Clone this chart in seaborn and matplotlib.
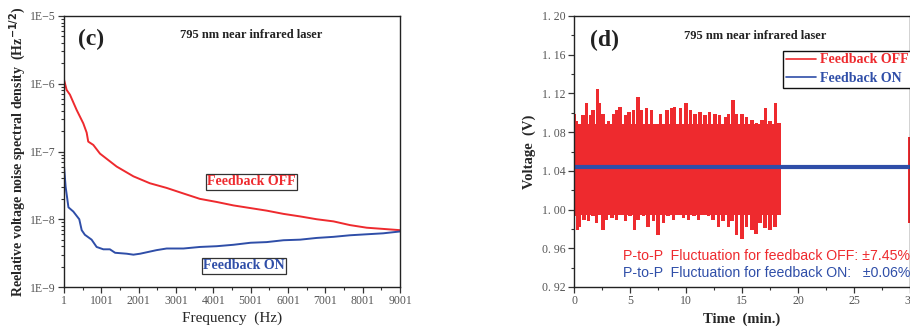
import numpy as np
import pandas as pd
import seaborn as sns
import matplotlib.pyplot as plt
from matplotlib.ticker import FixedLocator, MultipleLocator, LogLocator, NullFormatter

# --- panel (c): noise spectral density ---
freq_off = [1, 72, 160, 340, 518, 608, 650, 786, 965, 1410, 1860, 2300, 2750, 3200, 3640,
            4090, 4540, 5000, 5430, 5880, 6330, 6770, 7220, 7660, 8110, 8550, 9001]
nsd_off = [1.15e-6, 8.1e-7, 6.9e-7, 4.1e-7, 2.6e-7, 1.9e-7, 1.4e-7, 1.25e-7, 9.3e-8, 6.0e-8,
           4.3e-8, 3.4e-8, 2.9e-8, 2.4e-8, 2.0e-8, 1.8e-8, 1.6e-8, 1.46e-8, 1.34e-8, 1.2e-8,
           1.1e-8, 1.0e-8, 9.3e-9, 8.2e-9, 7.5e-9, 7.2e-9, 6.9e-9]

freq_on = [1, 45, 120, 250, 410, 475, 560, 740, 875, 1055, 1230, 1370, 1680, 1860, 2040,
           2480, 2750, 3200, 3640, 4090, 4540, 5000, 5430, 5880, 6330, 6770, 7220, 7660,
           8110, 8550, 9001]
nsd_on = [6.1e-8, 3.0e-8, 1.5e-8, 1.3e-8, 1.0e-8, 6.9e-9, 5.9e-9, 5.0e-9, 3.9e-9, 3.6e-9,
          3.6e-9, 3.2e-9, 3.1e-9, 3.0e-9, 3.1e-9, 3.5e-9, 3.7e-9, 3.7e-9, 3.9e-9, 4.0e-9,
          4.2e-9, 4.5e-9, 4.6e-9, 4.9e-9, 5.0e-9, 5.3e-9, 5.5e-9, 5.8e-9, 6.0e-9, 6.2e-9, 6.6e-9]

# --- panel (d): voltage vs time ---
# dense core of the OFF trace and its upper / lower excursions
t_core = [0, 18.4]
v_core_low = 0.994
v_core_high = 1.088
t_top = [0, 0.24, 0.5, 0.8, 1.1, 1.5, 1.7, 2.1, 2.3, 2.6, 3.1, 3.5, 3.8, 4.1, 4.6, 4.9, 5.3,
         5.7, 6.0, 6.5, 6.9, 7.4, 7.7, 8.3, 8.7, 9.0, 9.5, 10.0, 10.4, 10.8, 11.25, 11.7,
         12.1, 12.6, 13.0, 13.5, 13.8, 14.2, 14.5, 15.0, 15.4, 15.9, 16.3, 16.8, 17.1,
         17.5, 18.0, 18.3]
v_top = [1.099, 1.091, 1.077, 1.098, 1.110, 1.098, 1.103, 1.125, 1.110, 1.099, 1.091, 1.099,
         1.103, 1.106, 1.098, 1.101, 1.103, 1.116, 1.103, 1.105, 1.103, 1.084, 1.099, 1.103,
         1.105, 1.106, 1.105, 1.110, 1.103, 1.099, 1.101, 1.098, 1.101, 1.099, 1.098, 1.096,
         1.099, 1.113, 1.099, 1.099, 1.096, 1.093, 1.089, 1.093, 1.105, 1.091, 1.110, 1.089]
t_bot = [0, 0.3, 0.5, 0.9, 1.3, 1.7, 2.0, 2.6, 2.9, 3.4, 3.8, 4.3, 4.6, 5.0, 5.4, 5.7, 6.2,
         6.6, 7.1, 7.5, 8.0, 8.4, 8.9, 9.3, 9.8, 10.2, 10.7, 11.1, 11.5, 12.0, 12.4, 12.9,
         13.3, 13.8, 14.1, 14.5, 15.0, 15.4, 15.9, 16.25, 16.6, 17.05, 17.5, 17.95, 18.3]
v_bot = [0.993, 0.979, 0.982, 0.989, 0.988, 0.993, 0.986, 0.979, 0.989, 0.991, 0.989, 0.994,
         0.988, 0.993, 0.979, 0.989, 0.993, 0.982, 0.988, 0.974, 0.986, 0.993, 0.989, 0.996,
         0.991, 0.989, 0.993, 0.989, 0.996, 0.993, 0.989, 0.982, 0.988, 0.982, 0.988, 0.974,
         0.970, 0.982, 0.979, 0.975, 0.986, 0.981, 0.979, 0.982, 0.994]
t_tail = [29.95]
v_tail_low = [0.986]
v_tail_high = [1.075]
t_on = [0, 30]
v_on = [1.0436, 1.0436]
v_mid = 1.0436

RED = '#ee2a2e'
BLUE = '#2f4ea8'
GREY = '#555555'
SERIF = ['Liberation Serif', 'DejaVu Serif']
SANS = ['Liberation Sans', 'DejaVu Sans']

sns.set_style('ticks')
plt.rcParams['font.family'] = SERIF
plt.rcParams['axes.linewidth'] = 1.0
plt.rcParams['axes.edgecolor'] = '#222222'

fig = plt.figure(figsize=(9.10, 3.31), dpi=100)
ax1 = fig.add_axes([64 / 910, 1 - 287 / 331, 336 / 910, 271 / 331])
ax2 = fig.add_axes([574 / 910, 1 - 287 / 331, 336 / 910, 271 / 331])

# ---------- (c) ----------
df_off = pd.DataFrame({'f': freq_off, 'v': nsd_off})
df_on = pd.DataFrame({'f': freq_on, 'v': nsd_on})
sns.lineplot(data=df_off, x='f', y='v', color=RED, linewidth=1.4, ax=ax1)
sns.lineplot(data=df_on, x='f', y='v', color=BLUE, linewidth=1.4, ax=ax1)
ax1.set_yscale('log')
ax1.set_xlim(1, 9001)
ax1.set_ylim(1e-9, 1e-5)
ax1.xaxis.set_major_locator(FixedLocator([1 + 1000 * i for i in range(10)]))
ax1.xaxis.set_minor_locator(FixedLocator([501 + 1000 * i for i in range(9)]))
ax1.set_xticklabels([str(1 + 1000 * i) for i in range(10)])
ax1.set_yticks([1e-9, 1e-8, 1e-7, 1e-6, 1e-5])
ax1.set_yticklabels(['1E\u22129', '1E\u22128', '1E\u22127', '1E\u22126', '1E\u22125'])
ax1.yaxis.set_minor_locator(LogLocator(base=10, subs=np.arange(2, 10)))
ax1.yaxis.set_minor_formatter(NullFormatter())
ax1.set_xlabel('Frequency  (Hz)', fontsize=11, labelpad=3)
ax1.set_ylabel('Reelative voltage noise spectral density  (Hz$^{\\mathbf{-1/2}}$)',
               fontsize=10, fontweight='bold')
ax1.yaxis.set_label_coords(-0.108, 0.5)
ax1.text(0.08, 0.915, '(c)', transform=ax1.transAxes, fontsize=17, fontweight='bold',
         ha='center', va='center', color='#222222')
ax1.text(0.556, 0.93, '795 nm near infrared laser', transform=ax1.transAxes, fontsize=9,
         fontweight='bold', ha='center', va='center', color='#222222')
box = dict(boxstyle='square,pad=0.1', fc='white', ec='#333333', lw=0.9)
ax1.text(0.558, 0.388, 'Feedback OFF', transform=ax1.transAxes, fontsize=10,
         fontweight='bold', color=RED, ha='center', va='center', bbox=box)
ax1.text(0.535, 0.078, 'Feedback ON', transform=ax1.transAxes, fontsize=10,
         fontweight='bold', color=BLUE, ha='center', va='center', bbox=box)

# ---------- (d) ----------
ax2.fill_between(t_core, v_core_low, v_core_high, color=RED, lw=0)
ax2.bar(t_top, [v - v_mid for v in v_top], bottom=v_mid, width=0.3, color=RED, lw=0)
ax2.bar(t_bot, [v_mid - v for v in v_bot], bottom=v_bot, width=0.3, color=RED, lw=0)
ax2.bar(t_tail, [h - l for h, l in zip(v_tail_high, v_tail_low)], bottom=v_tail_low,
        width=0.25, color=RED, lw=0)
sns.lineplot(x=t_on, y=v_on, color=BLUE, linewidth=3, ax=ax2)
ax2.set_xlim(0, 30)
ax2.set_ylim(0.92, 1.20)
ax2.xaxis.set_major_locator(MultipleLocator(5))
ax2.xaxis.set_minor_locator(MultipleLocator(2.5))
ax2.yaxis.set_minor_locator(MultipleLocator(0.02))
yt = np.arange(0.92, 1.201, 0.04)
ax2.set_yticks(yt)
ax2.set_yticklabels([f'{v:.2f}'.replace('.', '. ') for v in yt])
ax2.set_xlabel('Time  (min.)', fontsize=10.5, fontweight='bold', labelpad=4)
ax2.set_ylabel('Voltage  (V)', fontsize=10.5, fontweight='bold', labelpad=4)
ax2.text(0.09, 0.91, '(d)', transform=ax2.transAxes, fontsize=17, fontweight='bold',
         ha='center', va='center', color='#222222')
ax2.text(0.54, 0.926, '795 nm near infrared laser', transform=ax2.transAxes, fontsize=9,
         fontweight='bold', ha='center', va='center', color='#222222')
ax2.text(0.145, 0.115, 'P-to-P  Fluctuation for feedback OFF: \u00b17.45%',
         transform=ax2.transAxes, fontsize=10.2, color=RED, family=SANS, va='center')
ax2.text(0.145, 0.052, 'P-to-P  Fluctuation for feedback ON:   \u00b10.06%',
         transform=ax2.transAxes, fontsize=10.2, color=BLUE, family=SANS, va='center')
handles = [plt.Line2D([], [], color=RED, lw=1.2), plt.Line2D([], [], color=BLUE, lw=1.2)]
leg = ax2.legend(handles, ['Feedback OFF', 'Feedback ON'], loc='upper left',
                 bbox_to_anchor=(0.622, 0.872), frameon=True, fancybox=False,
                 edgecolor='#111111', framealpha=1, borderpad=0.2, labelspacing=0.4,
                 handlelength=2.2, handletextpad=0.25, borderaxespad=0,
                 prop={'family': SERIF, 'weight': 'bold', 'size': 10})
leg.get_frame().set_linewidth(1.0)
for txt, c in zip(leg.get_texts(), [RED, BLUE]):
    txt.set_color(c)

for ax in (ax1, ax2):
    ax.tick_params(which='major', direction='out', length=4, width=0.9, colors='#333333',
                   labelcolor=GREY, labelsize=8.5, pad=2)
    ax.tick_params(which='minor', direction='out', length=2, width=0.8, colors='#333333')
    for lab in ax.get_xticklabels() + ax.get_yticklabels():
        lab.set_family(SERIF)
    for s in ax.spines.values():
        s.set_visible(True)

fig.savefig('out.png', dpi=100)
